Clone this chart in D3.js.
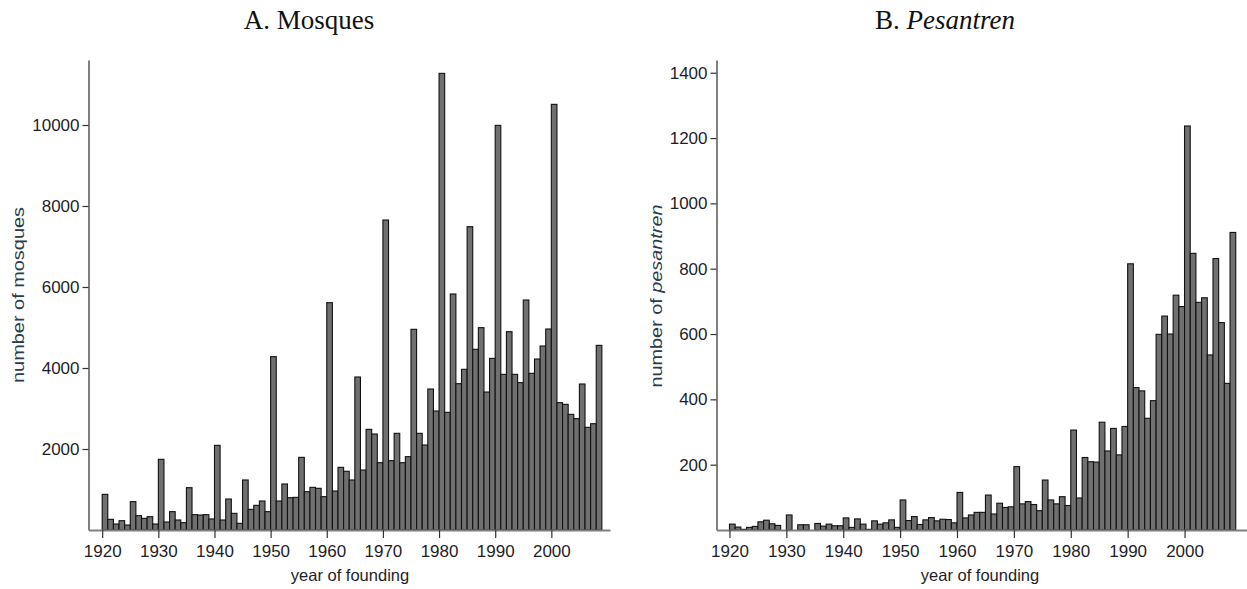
<!DOCTYPE html>
<html>
<head>
<meta charset="utf-8">
<script src="https://cdn.jsdelivr.net/npm/d3@7"></script>
<style>
  body { margin: 0; background: #fff; }
  svg { display: block; }
</style>
</head>
<body>
<div id="chart"></div>
<script>
// Years run from 1920 to 2008, one bar per year
const firstYear = 1920;

// Mosques founded per year (panel A)
const mosques = [
  880, 263, 148, 230, 123, 700, 354, 288, 329, 148,
  1745, 197, 453, 247, 181, 1045, 379, 370, 379, 272,
  2090, 247, 765, 411, 165, 1235, 510, 609, 716, 453,
  4280, 716, 1136, 798, 806, 1794, 946, 1053, 1029, 823,
  5613, 963, 1547, 1450, 1235, 3778, 1481, 2485, 2370, 1662,
  7654, 1712, 2387, 1662, 1811, 4955, 2387, 2099, 3481, 2938,
  11275, 2905, 5827, 3613, 3967, 7489, 4461, 4996, 3407, 4238,
  9991, 3843, 4897, 3843, 3638, 5679, 3868, 4222, 4543, 4963,
  10510, 3144, 3103, 2856, 2749, 3605, 2535, 2625, 4559
];

// Pesantren founded per year (panel B)
const pesantren = [
  18, 9, 2, 8, 11, 25, 30, 19, 14, 0,
  46, 0, 16, 16, 0, 20, 12, 18, 13, 13,
  37, 8, 34, 18, 2, 28, 18, 22, 31, 8,
  92, 29, 41, 17, 31, 38, 28, 33, 32, 22,
  115, 37, 46, 54, 54, 107, 49, 82, 69, 71,
  194, 80, 87, 78, 59, 153, 92, 80, 102, 75,
  306, 98, 222, 209, 208, 330, 242, 311, 230, 317,
  815, 436, 426, 342, 396, 599, 655, 600, 719, 684,
  1237, 847, 697, 711, 536, 831, 635, 449, 911
];

// Tick labels
const yearTicks = [1920, 1930, 1940, 1950, 1960, 1970, 1980, 1990, 2000];
const mosqueTicks = [2000, 4000, 6000, 8000, 10000];
const pesantrenTicks = [200, 400, 600, 800, 1000, 1200, 1400];

const width = 1247;
const height = 589;

const svg = d3.select("#chart")
  .append("svg")
  .attr("width", width)
  .attr("height", height);

const tickFont = "'Liberation Sans', Arial, sans-serif";
const axisGray = "#808080";

function drawPanel(opts) {
  const data = opts.values.map((v, i) => ({ year: firstYear + i, value: v }));

  const x = d3.scaleLinear()
    .domain(opts.xDomain)
    .range([opts.left, opts.right]);

  const y = d3.scaleLinear()
    .domain([0, opts.yMax])
    .range([530, 60]);

  const g = svg.append("g");

  // Bars: each year fills [year, year + 1)
  g.append("g")
    .selectAll("rect")
    .data(data)
    .join("rect")
    .attr("x", d => x(d.year))
    .attr("y", d => y(d.value))
    .attr("width", d => x(d.year + 1) - x(d.year))
    .attr("height", d => y(0) - y(d.value))
    .attr("fill", "#707070")
    .attr("stroke", "#111")
    .attr("stroke-width", 1.1);

  // X axis
  const xAxis = g.append("g")
    .attr("transform", `translate(0,${y(0)})`)
    .call(d3.axisBottom(x).tickValues(yearTicks).tickFormat(d3.format("d"))
      .tickSizeInner(8).tickSizeOuter(0).tickPadding(7));

  // Y axis
  const yAxis = g.append("g")
    .attr("transform", `translate(${opts.left},0)`)
    .call(d3.axisLeft(y).tickValues(opts.yTicks).tickFormat(d3.format("d"))
      .tickSizeInner(6).tickSizeOuter(0).tickPadding(3));

  [xAxis, yAxis].forEach(ax => {
    ax.select(".domain").attr("stroke", axisGray).attr("stroke-width", 2);
    ax.selectAll(".tick line").attr("stroke", "#333").attr("stroke-width", 1.2);
    ax.selectAll(".tick text")
      .attr("fill", "#1e1e28")
      .attr("font-family", tickFont)
      .attr("font-size", 17);
  });

  // Axis titles
  g.append("text")
    .attr("x", opts.xLabelX)
    .attr("y", 581)
    .attr("text-anchor", "middle")
    .attr("fill", "#1e1e28")
    .attr("font-family", tickFont)
    .attr("font-size", 16.5)
    .text("year of founding");

  const yl = g.append("text")
    .attr("transform", `translate(${opts.yLabelX},${opts.yLabelY}) rotate(-90)`)
    .attr("text-anchor", "middle")
    .attr("fill", "#2c3a4c")
    .attr("textLength", opts.yLabelLen)
    .attr("lengthAdjust", "spacingAndGlyphs")
    .attr("font-family", tickFont)
    .attr("font-size", 16.5);
  yl.append("tspan").text(opts.yLabel[0]);
  if (opts.yLabel[1]) yl.append("tspan").style("font-style", "italic").text(opts.yLabel[1]);

  // Panel title
  const t = g.append("text")
    .attr("x", opts.titleX)
    .attr("y", 29)
    .attr("text-anchor", "middle")
    .attr("fill", "#111")
    .attr("font-family", "'Palatino Linotype', 'Book Antiqua', Palatino, 'Liberation Serif', serif")
    .attr("font-size", 27);
  t.append("tspan").text(opts.title[0]);
  if (opts.title[1]) t.append("tspan").style("font-style", "italic").text(opts.title[1]);
}

drawPanel({
  values: mosques,
  xDomain: [1917.56, 2010.45],
  left: 88.5, right: 610,
  yMax: 11605,
  yTicks: mosqueTicks,
  xLabelX: 350,
  yLabelX: 24, yLabelY: 295, yLabelLen: 176,
  yLabel: ["number of mosques"],
  titleX: 309,
  title: ["A. Mosques"]
});

drawPanel({
  values: pesantren,
  xDomain: [1917.72, 2010.98],
  left: 716.5, right: 1247,
  yMax: 1439,
  yTicks: pesantrenTicks,
  xLabelX: 980,
  yLabelX: 662, yLabelY: 296, yLabelLen: 183,
  yLabel: ["number of ", "pesantren"],
  titleX: 945,
  title: ["B. ", "Pesantren"]
});
</script>
</body>
</html>
